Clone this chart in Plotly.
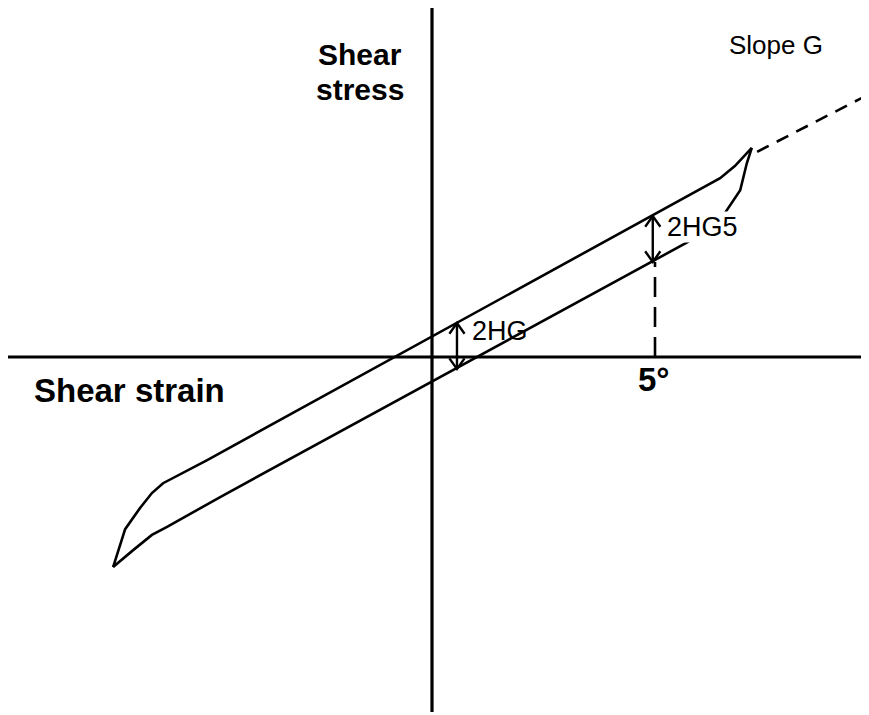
import plotly.graph_objects as go

# Data (strain units, stress units; origin at axes crossing, 5 units = "5°")
upper_x = [-7.15, -6.88, -6.55, -6.28, -6.03, -5.04, 6.46, 6.79, 7.17]
upper_y = [-4.71, -3.86, -3.39, -3.05, -2.83, -2.31, 4.01, 4.28, 4.69]
lower_x = [7.17, 7.06, 6.91, 6.57, 5.74, -4.75, -5.94, -6.28, -6.70, -7.15]
lower_y = [4.69, 4.35, 3.74, 3.23, 2.58, -3.14, -3.81, -3.99, -4.33, -4.71]
slope_x = [7.29, 9.64]
slope_y = [4.60, 5.81]
strain_mark = 5.0
mark_y = [0.0, 2.13]
arrow1_x = 0.56
arrow1_y = [-0.27, 0.76]
arrow2_x = 4.95
arrow2_y = [2.13, 3.16]
xaxis_span = [-9.57, 9.64]
yaxis_span = [-7.96, 7.85]

BLACK = "black"
fig = go.Figure()

def line(x, y, dash="solid", width=2.6):
    fig.add_trace(go.Scatter(x=x, y=y, mode="lines", hoverinfo="skip",
                             line=dict(color=BLACK, width=width, dash=dash), showlegend=False))

# axes
line(xaxis_span, [0, 0], width=3.2)
line([0, 0], yaxis_span, width=3.2)
# hysteresis loop
line(upper_x, upper_y)
line(lower_x, lower_y)
# slope G extension
line(slope_x, slope_y, dash="13px,9px")
# 5 degree marker
line([strain_mark, strain_mark], mark_y, dash="20px,10px")

# double arrows with open chevron heads
def darrow(x, y0, y1, hw=0.17, hh=0.24):
    line([x, x], [y0, y1], width=2.4)
    line([x - hw, x, x + hw], [y1 - hh, y1, y1 - hh], width=2.4)
    line([x - hw, x, x + hw], [y0 + hh, y0, y0 + hh], width=2.4)

darrow(arrow1_x, arrow1_y[0], arrow1_y[1])
darrow(arrow2_x, arrow2_y[0], arrow2_y[1])

F = "Liberation Sans, Arial, sans-serif"
def label(x, y, text, size, bold=False, bg=None):
    fig.add_annotation(x=x, y=y, xref="x", yref="y", text=(f"<b>{text}</b>" if bold else text),
                       showarrow=False, font=dict(family=F, size=size, color=BLACK),
                       bgcolor=bg, borderpad=0, align="center")

U = 44.6  # px per unit, used only to place text
def px(x, y):
    return (x - 432) / U, (357 - y) / U

label(*px(360, 54), "Shear", 30, bold=True)
label(*px(360, 89), "stress", 30, bold=True)
label(*px(129, 390), "Shear strain", 33, bold=True)
label(*px(654, 379), "5°", 33, bold=True)
label(*px(500, 331), "2HG", 27)
label(*px(702, 227), "2HG5", 27, bg="white")
label(*px(776, 45), "Slope G", 26)

# browser body margin (8px) compensation
off = 8 / U
fig.update_layout(
    width=869, height=715, margin=dict(l=0, r=0, t=0, b=0),
    plot_bgcolor="white", paper_bgcolor="white",
    xaxis=dict(range=[-432 / U + off, (869 - 432) / U + off], visible=False, fixedrange=True),
    yaxis=dict(range=[(357 - 715) / U - off, 357 / U - off], visible=False, fixedrange=True),
)
fig.write_html("out.html")
